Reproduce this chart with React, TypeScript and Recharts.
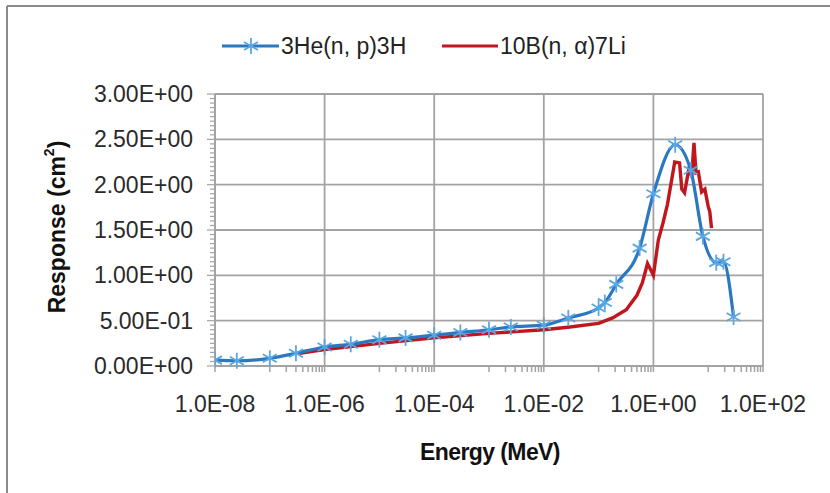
import { LineChart, Line, XAxis, YAxis, CartesianGrid, Label } from "recharts";

// 3He(n, p)3H response (energy in MeV, response in cm2)
const HE_ENERGY = [
  1e-8, 2.5e-8, 1e-7, 3e-7, 1e-6, 3e-6, 1e-5, 3e-5, 1e-4, 3e-4, 1e-3, 2.5e-3,
  1e-2, 2.8e-2, 1e-1, 1.3e-1, 2.1e-1, 5.6e-1, 1, 2.5, 4.8, 8, 14, 19, 29,
];
const HE_RESPONSE = [
  0.065, 0.058, 0.085, 0.14, 0.21, 0.24, 0.29, 0.31, 0.34, 0.37, 0.4, 0.43,
  0.45, 0.53, 0.64, 0.7, 0.9, 1.3, 1.9, 2.44, 2.16, 1.43, 1.14, 1.15, 0.54,
];

// 10B(n, alpha)7Li response
const B_ENERGY = [
  3.5e-7, 1e-6, 1e-5, 1e-4, 1e-3, 1e-2, 3e-2, 1e-1, 1.8e-1, 3.2e-1, 5e-1, 6.3e-1,
  7.8e-1, 1.0, 1.23, 1.5, 1.8, 2.15, 2.45, 3.0, 3.3, 3.7, 4.4, 5.0, 5.5, 6.0,
  6.6, 7.6, 8.7, 10, 10.7, 11.5,
];
const B_RESPONSE = [
  0.14, 0.18, 0.25, 0.31, 0.36, 0.4, 0.43, 0.47, 0.53, 0.62, 0.78, 0.92,
  1.13, 1.0, 1.39, 1.58, 1.78, 2.05, 2.25, 2.24, 1.95, 1.91, 2.16, 2.1, 2.46, 2.13,
  2.14, 1.92, 1.95, 1.76, 1.7, 1.52,
];

const X_MAJOR = [1e-8, 1e-6, 1e-4, 1e-2, 1, 100];
const X_LABELS = ["1.0E-08", "1.0E-06", "1.0E-04", "1.0E-02", "1.0E+00", "1.0E+02"];
const X_MINOR_DECADES = [1e-7, 1e-5, 1e-3, 1e-1, 10];

const Y_MAJOR = [0, 0.5, 1, 1.5, 2, 2.5, 3];
const Y_LABELS = ["0.00E+00", "5.00E-01", "1.00E+00", "1.50E+00", "2.00E+00", "2.50E+00", "3.00E+00"];

const SERIES = [
  { name: "3He(n, p)3H", color: "#2a78c0" },
  { name: "10B(n, \u03b1)7Li", color: "#c0171f" },
];

const FONT = '"Liberation Sans", Arial, sans-serif';
const GRID = "#a3a3a3";
const MARKER = "#5aa6e3";

const heData = HE_ENERGY.map((e, i) => ({ e, r: HE_RESPONSE[i] }));
const bData = B_ENERGY.map((e, i) => ({ e, r: B_RESPONSE[i] }));

const xTicks = [
  ...X_MAJOR,
  ...X_MINOR_DECADES.flatMap((d) => [1, 2, 3, 4, 5, 6, 7, 8, 9].map((m) => m * d)),
].sort((a, b) => a - b);
const yTicks = Array.from({ length: 61 }, (_, i) => Math.round(i * 5) / 100);

function Star({ cx, cy, size = 8 }: { cx: number; cy: number; size?: number }) {
  const d = size * 0.87;
  const h = size * 0.5;
  return (
    <g stroke={MARKER} strokeWidth={1.8}>
      <line x1={cx} y1={cy - size} x2={cx} y2={cy + size} />
      <line x1={cx - d} y1={cy - h} x2={cx + d} y2={cy + h} />
      <line x1={cx - d} y1={cy + h} x2={cx + d} y2={cy - h} />
    </g>
  );
}

function StarDot(props: any) {
  const { cx, cy, index } = props;
  if (cx == null || cy == null) return <g key={index} />;
  return <Star key={index} cx={cx} cy={cy} />;
}

function XTick({ x, y, payload }: any) {
  const i = X_MAJOR.indexOf(payload.value);
  return (
    <g>
      <line x1={x} x2={x} y1={y} y2={y + 6} stroke={GRID} strokeWidth={1.5} />
      {i >= 0 && (
        <text x={x} y={y + 46} textAnchor="middle" fontFamily={FONT} fontSize={23} fill="#2a2a2a">
          {X_LABELS[i]}
        </text>
      )}
    </g>
  );
}

function YTick({ x, y, payload }: any) {
  const i = Y_MAJOR.findIndex((v) => Math.abs(v - payload.value) < 1e-9);
  return (
    <g>
      <line x1={x - (i >= 0 ? 8 : 5)} x2={x} y1={y} y2={y} stroke={GRID} strokeWidth={1.2} />
      {i >= 0 && (
        <text x={x - 22} y={y + 8} textAnchor="end" fontFamily={FONT} fontSize={23} fill="#2a2a2a">
          {Y_LABELS[i]}
        </text>
      )}
    </g>
  );
}

function YTitle({ viewBox }: any) {
  const cy = viewBox.y + viewBox.height / 2 - 3;
  return (
    <text
      x={57}
      y={cy}
      transform={`rotate(-90, 57, ${cy})`}
      textAnchor="middle"
      dominantBaseline="central"
      fontFamily={FONT}
      fontSize={23}
      fontWeight="bold"
      fill="#111"
    >
      Response (cm<tspan dy={-8} fontSize={14}>2</tspan>
      <tspan dy={8}>)</tspan>
    </text>
  );
}

function XTitle({ viewBox }: any) {
  return (
    <text
      x={viewBox.x + viewBox.width / 2 + 1}
      y={viewBox.y + 94}
      textAnchor="middle"
      fontFamily={FONT}
      fontSize={23}
      fontWeight="bold"
      letterSpacing={-0.6}
      fill="#111"
    >
      Energy (MeV)
    </text>
  );
}

function LegendOverlay() {
  return (
    <svg width={830} height={493} style={{ position: "absolute", left: 0, top: 0, pointerEvents: "none" }}>
      {/* frame of the original figure */}
      <line x1={7} y1={6} x2={830} y2={6} stroke="#8a8a8a" strokeWidth={2} />
      <line x1={7} y1={6} x2={7} y2={493} stroke="#8a8a8a" strokeWidth={2} />

      <line x1={222} x2={279} y1={46} y2={46} stroke={SERIES[0].color} strokeWidth={3} />
      <Star cx={251} cy={46} />
      <text x={281} y={54} fontFamily={FONT} fontSize={23} fill="#222">
        {SERIES[0].name}
      </text>
      <line x1={442} x2={498} y1={46} y2={46} stroke={SERIES[1].color} strokeWidth={3} />
      <text x={500} y={54} fontFamily={FONT} fontSize={23} fill="#222">
        {SERIES[1].name}
      </text>
    </svg>
  );
}

export default function App() {
  return (
    <div style={{ position: "absolute", left: 0, top: 0, width: 830, height: 493, background: "#fff" }}>
      <LineChart width={830} height={493} margin={{ top: 94, right: 67, bottom: 67, left: 0 }}>
        <CartesianGrid
          stroke={GRID}
          strokeWidth={1.8}
          horizontalValues={Y_MAJOR}
          verticalValues={X_MAJOR}
        />
        <XAxis
          type="number"
          dataKey="e"
          scale="log"
          domain={[1e-8, 100]}
          allowDataOverflow
          ticks={xTicks}
          interval={0}
          tick={<XTick />}
          tickLine={false}
          tickSize={0}
          tickMargin={0}
          height={60}
          axisLine={{ stroke: GRID, strokeWidth: 2 }}
        >
          <Label content={<XTitle />} />
        </XAxis>
        <YAxis
          type="number"
          dataKey="r"
          domain={[0, 3]}
          ticks={yTicks}
          interval={0}
          tick={<YTick />}
          tickLine={false}
          tickSize={0}
          tickMargin={0}
          width={215}
          axisLine={{ stroke: GRID, strokeWidth: 2 }}
        >
          <Label content={<YTitle />} />
        </YAxis>
        <Line
          data={bData}
          dataKey="r"
          name={SERIES[1].name}
          type="linear"
          stroke={SERIES[1].color}
          strokeWidth={3.4}
          dot={false}
          isAnimationActive={false}
        />
        <Line
          data={heData}
          dataKey="r"
          name={SERIES[0].name}
          type="monotone"
          stroke={SERIES[0].color}
          strokeWidth={3.2}
          dot={<StarDot />}
          isAnimationActive={false}
        />
      </LineChart>
      <LegendOverlay />
    </div>
  );
}
